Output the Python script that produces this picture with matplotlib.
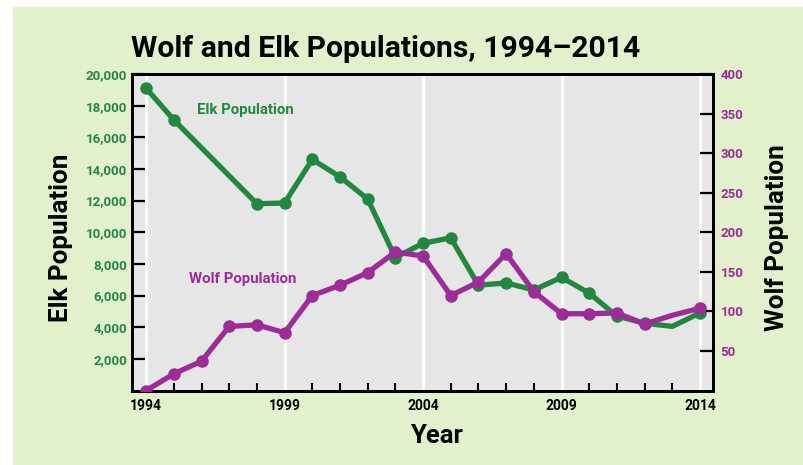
import matplotlib
matplotlib.use("Agg")
import matplotlib.pyplot as plt
from matplotlib.patches import Rectangle
from matplotlib.ticker import MultipleLocator, FuncFormatter

# data
elk_years = [1994, 1995, 1998, 1999, 2000, 2001, 2002, 2003, 2004, 2005,
             2006, 2007, 2008, 2009, 2010, 2011, 2012, 2013, 2014]
elk_pop = [19100, 17100, 11800, 11850, 14600, 13500, 12100, 8400, 9300, 9650,
           6650, 6800, 6350, 7150, 6150, 4700, 4250, 4050, 4900]

wolf_years = list(range(1994, 2015))
wolf_pop = [0, 21, 37, 81, 83, 73, 120, 133, 149, 175, 170,
            120, 137, 173, 125, 97, 97, 98, 84, 95, 104]

# years drawn without a dot
no_marker_years = [2013]

elk_ticks = list(range(2000, 20001, 2000))
wolf_ticks = list(range(50, 401, 50))
year_ticks = [1994, 1999, 2004, 2009, 2014]

GREEN = "#23883f"
PURPLE = "#9d2b98"
BG = "#e2f1cc"
PANEL = "#e6e6e6"
FONT = ["Roboto", "DejaVu Sans"]

fig = plt.figure(figsize=(8.04, 4.65), dpi=100, facecolor="white")
fig.patches.append(Rectangle((13 / 804, 0), 1, 1 - 7 / 465, transform=fig.transFigure,
                             facecolor=BG, edgecolor="none", zorder=-10))

ax = fig.add_axes([132 / 804, 1 - 390.5 / 465, 581 / 804, 316.5 / 465])
ax.set_facecolor(PANEL)
ax2 = ax.twinx()

elk_marks = [i for i, y in enumerate(elk_years) if y not in no_marker_years]
wolf_marks = [i for i, y in enumerate(wolf_years) if y not in no_marker_years]

ax.plot(elk_years, elk_pop, color=GREEN, lw=3.8, marker="o", ms=8,
        markevery=elk_marks, solid_joinstyle="round", zorder=3)
ax2.plot(wolf_years, wolf_pop, color=PURPLE, lw=3.8, marker="o", ms=8,
         markevery=wolf_marks, solid_joinstyle="round", zorder=3)

ax.set_xlim(1993.49, 2014.47)
ax.set_ylim(0, 20000)
ax2.set_ylim(0, 400)

ax.set_xticks(year_ticks)
ax.xaxis.set_minor_locator(MultipleLocator(1))
ax.set_yticks(elk_ticks)
ax2.set_yticks(wolf_ticks)
ax.yaxis.set_major_formatter(FuncFormatter(lambda v, p: f"{int(v):,}"))

ax.set_axisbelow(True)
ax.xaxis.grid(True, color="white", lw=2)

for a in (ax, ax2):
    for s in a.spines.values():
        s.set_linewidth(2)
        s.set_color("black")

ax.tick_params(axis="x", which="major", length=0, pad=6)
ax.tick_params(axis="x", which="minor", direction="in", length=6, width=1.5)
ax.tick_params(axis="y", direction="in", length=9.5, width=1.6, pad=3.5,
               labelcolor=GREEN)
ax2.tick_params(axis="y", direction="in", length=9.5, width=1.6, pad=5.5,
                labelcolor=PURPLE)

for lab in ax.get_xticklabels():
    lab.set_fontfamily(FONT)
    lab.set_fontweight("bold")
    lab.set_fontsize(10)
for lab in ax.get_yticklabels() + ax2.get_yticklabels():
    lab.set_fontfamily(FONT)
    lab.set_fontweight("bold")
    lab.set_fontsize(9.5)

# series labels
ax.text(1997.6, 17700, "Elk Population", color=GREEN, fontsize=10.8,
        fontweight="bold", family=FONT, ha="center", va="center")
ax.text(1997.5, 7070, "Wolf Population", color=PURPLE, fontsize=10.8,
        fontweight="bold", family=FONT, ha="center", va="center")

# titles and axis labels
fig.text(386 / 804, 1 - 49 / 465, "Wolf and Elk Populations, 1994\u20132014",
         fontsize=21.7, fontweight="bold", family=FONT,
         ha="center", va="center")
fig.text(436 / 804, 1 - 436 / 465, "Year", fontsize=18.5, fontweight="bold",
         family=FONT, ha="center", va="center")
fig.text(61 / 804, 1 - 237.5 / 465, "Elk Population", fontsize=18.7,
         fontweight="bold", family=FONT, rotation=90,
         ha="center", va="center")
fig.text(777 / 804, 1 - 237.5 / 465, "Wolf Population", fontsize=18.7,
         fontweight="bold", family=FONT, rotation=90,
         ha="center", va="center")

fig.savefig("out.png", dpi=100, facecolor="white")
